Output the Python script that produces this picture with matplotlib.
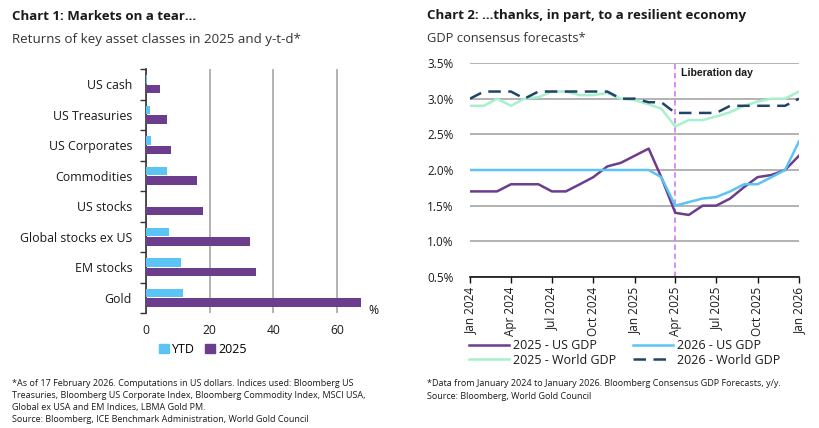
import numpy as np
import pandas as pd
import matplotlib
matplotlib.use("Agg")
import matplotlib.pyplot as plt
import matplotlib.dates as mdates
from matplotlib.patches import Patch

plt.rcParams['font.family'] = ['Open Sans', 'DejaVu Sans']

# ---- Chart 1 data: returns (%) ----
assets = ['US cash', 'US Treasuries', 'US Corporates', 'Commodities',
          'US stocks', 'Global stocks ex US', 'EM stocks', 'Gold']
ytd = [0.4, 1.4, 1.5, 6.6, 0.1, 7.1, 11.0, 11.6]
ret_2025 = [4.4, 6.5, 7.8, 15.9, 17.9, 32.6, 34.5, 67.4]

# ---- Chart 2 data: monthly GDP consensus forecasts (%) ----
months = pd.date_range('2024-01-01', '2026-01-01', freq='MS')
us_2025 = [1.70, 1.70, 1.70, 1.80, 1.80, 1.80, 1.70, 1.70, 1.80, 1.90, 2.05, 2.10, 2.20,
           2.30, 1.90, 1.40, 1.37, 1.50, 1.50, 1.60, 1.76, 1.90, 1.93, 2.00, 2.20]
us_2026 = [2.00, 2.00, 2.00, 2.00, 2.00, 2.00, 2.00, 2.00, 2.00, 2.00, 2.00, 2.00, 2.00,
           2.00, 1.90, 1.50, 1.55, 1.60, 1.62, 1.70, 1.80, 1.80, 1.90, 2.00, 2.40]
world_2025 = [2.90, 2.90, 3.00, 2.90, 3.00, 3.02, 3.10, 3.10, 3.05, 3.05, 3.08, 3.00, 2.98,
              2.92, 2.86, 2.61, 2.70, 2.70, 2.75, 2.81, 2.90, 2.96, 3.00, 3.00, 3.10]
world_2026 = [3.00, 3.10, 3.10, 3.10, 3.00, 3.10, 3.10, 3.10, 3.10, 3.10, 3.10, 3.00, 3.00,
              2.95, 2.95, 2.80, 2.80, 2.80, 2.80, 2.90, 2.90, 2.90, 2.90, 2.90, 3.00]
liberation_day = pd.Timestamp('2025-04-01')

notes1 = ['*As of 17 February 2026. Computations in US dollars. Indices used: Bloomberg US',
          'Treasuries, Bloomberg US Corporate Index, Bloomberg Commodity Index, MSCI USA,',
          'Global ex USA and EM Indices, LBMA Gold PM.',
          'Source: Bloomberg, ICE Benchmark Administration, World Gold Council']
notes2 = ['*Data from January 2024 to January 2026. Bloomberg Consensus GDP Forecasts, y/y.',
          'Source: Bloomberg, World Gold Council']

blue = '#5BC4F5'
purple = '#6B3D8C'
mint = '#A8F0CC'
navy = '#1F4466'
grid_c = '#A6A6A6'
txt = '#1A1A1A'

W, H = 819, 428
fig = plt.figure(figsize=(W / 100, H / 100), dpi=100)


def rect(x0, y0, x1, y1):
    return [x0 / W, 1 - y1 / H, (x1 - x0) / W, (y1 - y0) / H]


def ftext(x, y, s, **kw):
    fig.text(x / W, 1 - y / H, s, **kw)


# ================= Chart 1 =================
ax1 = fig.add_axes(rect(146, 69, 369, 313))
pos = np.arange(len(assets))
bh = 0.29
ax1.barh(pos - bh / 2 - 0.01, ytd, height=bh, color=blue, zorder=3)
ax1.barh(pos + bh / 2 + 0.01, ret_2025, height=bh, color=purple, zorder=3)
ax1.set_ylim(len(assets) - 0.5, -0.5)
ax1.set_xlim(0, 70)
ax1.set_yticks(pos)
ax1.set_yticklabels(assets, fontsize=8.9, color=txt)
ax1.set_yticks(np.arange(-0.5, len(assets), 1), minor=True)
ax1.tick_params(axis='y', which='major', length=0, pad=10)
ax1.tick_params(axis='y', which='minor', length=4, color='#333333', width=1)
ax1.set_xticks([0, 20, 40, 60])
ax1.tick_params(axis='x', length=0, labelsize=8.7, colors=txt, pad=8)
ax1.xaxis.grid(True, color=grid_c, linewidth=1.2, zorder=0)
for s in ['top', 'right', 'bottom']:
    ax1.spines[s].set_visible(False)
ax1.spines['left'].set_color('#333333')
ax1.spines['left'].set_linewidth(1.2)
ax1.text(0.995, 0.01, '%', transform=ax1.transAxes, fontsize=8.7, color=txt,
         ha='left', va='center')
ax1.legend(handles=[Patch(color=blue, label='YTD'), Patch(color=purple, label='2025')],
           loc='center', bbox_to_anchor=((203 - 146) / 223, -0.15), ncol=2,
           frameon=False, fontsize=9, handlelength=0.75, handleheight=0.75,
           handletextpad=0.3, columnspacing=0.8)

ftext(12, 16, 'Chart 1: Markets on a tear…', fontsize=9.5, fontweight='bold',
      color=txt, va='center')
ftext(12, 39, 'Returns of key asset classes in 2025 and y-t-d*', fontsize=9.6,
      color='#333333', va='center')
for k, line in enumerate(notes1):
    ftext(12, 383 + 12.2 * k, line, fontsize=6.5, color=txt, va='center')

# ================= Chart 2 =================
ax2 = fig.add_axes(rect(470, 63, 799, 277))
l1, = ax2.plot(months, us_2025, color=purple, linewidth=1.8, zorder=3, label='2025 - US GDP')
l2, = ax2.plot(months, us_2026, color=blue, linewidth=1.8, zorder=3, label='2026 - US GDP')
l3, = ax2.plot(months, world_2025, color=mint, linewidth=1.8, zorder=3, label='2025 - World GDP')
l4, = ax2.plot(months, world_2026, color=navy, linewidth=1.8, zorder=3, dashes=(5, 3),
               label='2026 - World GDP')
ax2.axvline(liberation_day, color='#D683F2', linewidth=1.3, linestyle=(0, (3, 2)), zorder=2)
ax2.text(liberation_day + pd.Timedelta(days=12), 3.36, 'Liberation day',
         fontsize=7.6, fontweight='bold', family=['Liberation Sans', 'DejaVu Sans'],
         color=txt, va='center', ha='left')
ax2.set_ylim(0.5, 3.5)
ax2.set_xlim(months[0], months[-1])
yt = np.arange(0.5, 3.51, 0.5)
ax2.set_yticks(yt)
ax2.set_yticklabels([f'{v:.1f}%' for v in yt], fontsize=8.5, color=txt)
ax2.tick_params(axis='y', length=0, pad=12)
ax2.yaxis.grid(True, color=grid_c, linewidth=1.2, zorder=0)
ax2.xaxis.set_major_locator(mdates.MonthLocator(bymonth=[1, 4, 7, 10]))
ax2.xaxis.set_major_formatter(mdates.DateFormatter('%b %Y'))
ax2.tick_params(axis='x', length=4, width=1, color='#111111', labelsize=8.5,
                labelcolor=txt, labelrotation=90, pad=3)
for s in ['top', 'right', 'left']:
    ax2.spines[s].set_visible(False)
ax2.spines['bottom'].set_color('#111111')
ax2.spines['bottom'].set_linewidth(1.2)
ax2.spines['bottom'].set_zorder(4)
ax2.legend(handles=[l1, l3, l2, l4], loc='upper left',
           bbox_to_anchor=(469 / W, 1 - 339 / H),
           bbox_transform=fig.transFigure, ncol=2, frameon=False, fontsize=9,
           handlelength=3.2, handletextpad=0.35, columnspacing=1.3, labelspacing=0.12,
           borderpad=0, borderaxespad=0, labelcolor=txt)

ftext(427, 16, 'Chart 2: …thanks, in part, to a resilient economy', fontsize=9.5,
      fontweight='bold', color=txt, va='center')
ftext(427, 39, 'GDP consensus forecasts*', fontsize=9.3, color='#333333', va='center')
for k, line in enumerate(notes2):
    ftext(427, 384 + 12.2 * k, line, fontsize=6.5, color=txt, va='center')

fig.savefig('out.png', dpi=100)
